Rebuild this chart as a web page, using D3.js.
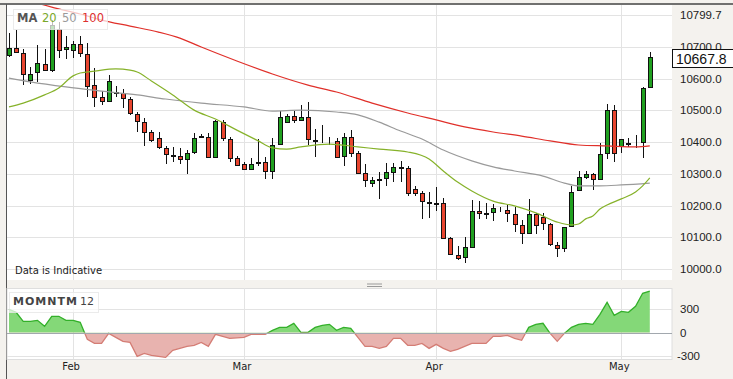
<!DOCTYPE html>
<html>
<head>
<meta charset="utf-8">
<script src="https://cdn.jsdelivr.net/npm/d3@7"></script>
<style>
    body { margin: 0; background: #f4f2ee; }
    svg { display: block; }
</style>
</head>
<body>
<svg id="chart" width="733" height="379"></svg>
<script>
// daily candles, one per session (Sun-Fri), late Jan to early May
let candle_open = [10675, 10697, 10681, 10596, 10621, 10646, 10627, 10757, 10694, 10691,
    10709, 10678, 10580, 10542, 10530, 10557, 10555, 10536, 10489, 10464,
    10432, 10413, 10382, 10361, 10356, 10347, 10369, 10418, 10416, 10353,
    10464, 10410, 10350, 10331, 10315, 10336, 10337, 10309, 10394, 10464,
    10482, 10470, 10479, 10405, 10404, 10403, 10404, 10356, 10416, 10366,
    10303, 10271, 10283, 10287, 10306, 10321, 10318, 10252, 10240, 10212,
    10209, 10208, 10098, 10044, 10038, 10069, 10183, 10178, 10180, 10187,
    10186, 10173, 10139, 10114, 10173, 10164, 10142, 10076, 10066, 10136,
    10249, 10290, 10300, 10284, 10366, 10501, 10388, 10396, 10398, 10400, 10574]
let candle_high = [10744, 10754, 10694, 10637, 10706, 10694, 10785, 10779, 10735, 10719,
    10735, 10713, 10634, 10561, 10612, 10577, 10568, 10542, 10495, 10476,
    10438, 10432, 10388, 10385, 10382, 10375, 10429, 10426, 10429, 10470,
    10470, 10416, 10356, 10337, 10350, 10410, 10353, 10413, 10498, 10489,
    10498, 10517, 10527, 10441, 10454, 10416, 10413, 10429, 10438, 10372,
    10331, 10290, 10306, 10334, 10334, 10341, 10325, 10262, 10246, 10243,
    10259, 10224, 10100, 10073, 10101, 10218, 10214, 10208, 10205, 10195,
    10202, 10195, 10155, 10221, 10177, 10177, 10145, 10085, 10132, 10262,
    10309, 10309, 10303, 10397, 10520, 10517, 10410, 10413, 10422, 10574, 10684]
let candle_low = [10668, 10681, 10580, 10583, 10590, 10624, 10621, 10665, 10662, 10665,
    10668, 10542, 10511, 10517, 10527, 10542, 10508, 10486, 10432, 10388,
    10400, 10378, 10331, 10337, 10331, 10300, 10363, 10413, 10350, 10350,
    10404, 10337, 10325, 10312, 10312, 10325, 10284, 10284, 10391, 10460,
    10460, 10467, 10391, 10353, 10397, 10391, 10350, 10325, 10353, 10303,
    10259, 10259, 10221, 10262, 10274, 10274, 10230, 10230, 10158, 10161,
    10183, 10095, 10044, 10028, 10019, 10066, 10158, 10158, 10151, 10180,
    10148, 10117, 10079, 10110, 10110, 10123, 10073, 10038, 10054, 10132,
    10246, 10284, 10249, 10281, 10347, 10337, 10366, 10385, 10382, 10350, 10574]
let candle_close = [10697, 10684, 10615, 10615, 10650, 10627, 10769, 10691, 10700, 10709,
    10681, 10577, 10542, 10530, 10593, 10559, 10539, 10492, 10467, 10432,
    10407, 10385, 10363, 10359, 10347, 10366, 10413, 10420, 10353, 10467,
    10413, 10350, 10328, 10315, 10331, 10338, 10309, 10391, 10479, 10482,
    10470, 10479, 10410, 10407, 10403, 10404, 10353, 10416, 10366, 10303,
    10281, 10281, 10285, 10306, 10322, 10323, 10240, 10240, 10214, 10210,
    10207, 10098, 10047, 10035, 10069, 10183, 10177, 10176, 10192, 10186,
    10177, 10142, 10114, 10173, 10139, 10145, 10079, 10066, 10132, 10243,
    10290, 10300, 10284, 10363, 10501, 10366, 10410, 10398, 10397, 10571, 10667.8]

// moving averages: [candle index, value]
let ma20 = [[0, 10511], [2, 10523], [5, 10549], [7, 10571], [9, 10609], [10, 10618], [12, 10624],
    [15, 10631], [17, 10627], [18, 10621], [20, 10593], [23, 10549], [26, 10501], [29, 10473],
    [32, 10438], [35, 10404], [37, 10382], [39, 10378], [41, 10385], [45, 10394], [49, 10385],
    [52, 10378], [56, 10369], [59, 10347], [61, 10309], [63, 10274], [65, 10246], [68, 10214],
    [71, 10199], [74, 10177], [77, 10148], [79, 10139], [80, 10142], [81, 10158], [82, 10167],
    [83, 10189], [84, 10202], [86, 10221], [88, 10243], [89, 10262], [90, 10287]]
let ma50 = [[0, 10602], [3, 10590], [8, 10574], [13, 10561], [18, 10549], [22, 10536], [27, 10523],
    [33, 10511], [37, 10498], [41, 10501], [46, 10495], [49, 10486], [52, 10463], [55, 10435],
    [58, 10410], [61, 10375], [65, 10341], [68, 10322], [71, 10309], [75, 10293], [78, 10271],
    [80, 10262], [83, 10262], [86, 10265], [90, 10271]]
let ma100 = [[0, 10867], [3, 10845], [6, 10826], [10, 10804], [13, 10785], [17, 10766], [21, 10747],
    [24, 10728], [27, 10700], [32, 10656], [37, 10615], [42, 10580], [46, 10558], [51, 10523],
    [56, 10492], [60, 10470], [64, 10448], [68, 10432], [72, 10419], [76, 10404], [80, 10391],
    [84, 10388], [88, 10385], [90, 10388]]

// momentum (12), one value per candle
let momentum = [300, 262, 145, 145, 158, 81, 210, 210, 158, 158,
    133, -86, -138, -138, -9, -60, -112, -125, -305, -266,
    -292, -305, -318, -228, -202, -176, -163, -125, -176, -22,
    -48, -73, -67, -60, -22, -22, -22, 30, 68, 68,
    120, 4, 4, 68, 94, 107, 30, 68, 55, -60,
    -176, -176, -202, -176, -73, -73, -163, -163, -138, -202,
    -150, -202, -241, -215, -176, -138, -138, -138, -48, -48,
    -35, -73, -99, 68, 107, 120, -9, -112, -9, 68,
    107, 120, 107, 236, 390, 223, 274, 261, 338, 506, 532]

let price_ticks = [10000, 10100, 10200, 10300, 10400, 10500, 10600, 10700, 10799.7]
let price_labels = ['10000.0', '10100.0', '10200.0', '10300.0', '10400.0', '10500.0', '10600.0', '10700.0', '10799.7']
let mom_ticks = [-300, 0, 300]
let month_names = ['Feb', 'Mar', 'Apr', 'May']
let month_start = [9, 33, 60, 86]
let last_price = 10667.8

let col_up = '#20a020'
let col_down = '#e8452f'
let grid_col = '#e3e3e3'

let pad = { l: 7, r: 672, main_t: 5, main_b: 280, mom_t: 288, mom_b: 359 }

let svg = d3.select('#chart')

let x = d3.scaleLinear()
    .domain([0, candle_open.length - 1])
    .range([9, 649.8])
let y = d3.scaleLinear()
    .domain([10000, 10800])
    .range([269, 15.3])
let m = d3.scaleLinear()
    .domain([-300, 300])
    .range([356, 309.3])

let px = v => Math.round(v) + 0.5

// frame
svg.append('line')
    .attr('x1', 0).attr('x2', 733).attr('y1', 4).attr('y2', 4)
    .attr('stroke', '#444').attr('stroke-width', 1.5)
svg.append('line')
    .attr('x1', 6.5).attr('x2', 6.5).attr('y1', 4).attr('y2', 379)
    .attr('stroke', '#555')

// panels
svg.append('rect')
    .attr('x', pad.l).attr('y', pad.main_t)
    .attr('width', pad.r - pad.l).attr('height', pad.main_b - pad.main_t)
    .attr('fill', '#fff')
svg.append('rect')
    .attr('x', pad.l).attr('y', pad.mom_t + 0.5)
    .attr('width', pad.r - pad.l).attr('height', pad.mom_b - pad.mom_t)
    .attr('fill', '#fff').attr('stroke', '#dedede')

let defs = svg.append('defs')
defs.append('clipPath').attr('id', 'clip-main')
    .append('rect')
    .attr('x', pad.l).attr('y', pad.main_t)
    .attr('width', pad.r - pad.l).attr('height', pad.main_b - pad.main_t)
defs.append('clipPath').attr('id', 'clip-up')
    .append('rect')
    .attr('x', pad.l).attr('y', pad.mom_t + 1)
    .attr('width', pad.r - pad.l).attr('height', m(0) - pad.mom_t - 1)
defs.append('clipPath').attr('id', 'clip-down')
    .append('rect')
    .attr('x', pad.l).attr('y', m(0))
    .attr('width', pad.r - pad.l).attr('height', pad.mom_b - m(0))

// grid
let grid = svg.append('g')
grid.selectAll('line.hg').data(price_ticks).enter()
    .append('line')
    .attr('x1', pad.l).attr('x2', pad.r)
    .attr('y1', d => px(y(d))).attr('y2', d => px(y(d)))
    .attr('stroke', grid_col)
grid.selectAll('line.mg').data(mom_ticks.filter(d => d !== 0)).enter()
    .append('line')
    .attr('x1', pad.l).attr('x2', pad.r)
    .attr('y1', d => px(m(d))).attr('y2', d => px(m(d)))
    .attr('stroke', grid_col)
month_start.forEach(i => {
    grid.append('line')
        .attr('x1', px(x(i))).attr('x2', px(x(i)))
        .attr('y1', pad.main_t).attr('y2', pad.main_b)
        .attr('stroke', grid_col)
    grid.append('line')
        .attr('x1', px(x(i))).attr('x2', px(x(i)))
        .attr('y1', pad.mom_t).attr('y2', pad.mom_b)
        .attr('stroke', grid_col)
})

// candles
let candles = candle_open.map((o, i) => ({
    i: i, o: o, h: candle_high[i], l: candle_low[i], c: candle_close[i]
}))
let main = svg.append('g').attr('clip-path', 'url(#clip-main)')

main.selectAll('line.wick').data(candles).enter()
    .append('line')
    .attr('x1', d => px(x(d.i))).attr('x2', d => px(x(d.i)))
    .attr('y1', d => Math.round(y(d.h))).attr('y2', d => Math.round(y(d.l)))
    .attr('stroke', '#111')
main.selectAll('rect.body').data(candles).enter()
    .append('rect')
    .attr('x', d => Math.round(x(d.i)) - 1.5)
    .attr('width', 4)
    .attr('y', d => px(y(Math.max(d.o, d.c))))
    .attr('height', d => Math.max(0, Math.round(Math.abs(y(d.o) - y(d.c)))))
    .attr('fill', d => d.c >= d.o ? col_up : col_down)
    .attr('stroke', '#111')

// moving averages
let ma_line = d3.line()
    .x(d => x(d[0]))
    .y(d => y(d[1]))
    .curve(d3.curveMonotoneX)
let ma_series = [[ma50, '#9a9a9a'], [ma100, '#e0302a'], [ma20, '#86b22a']]
ma_series.forEach(s => {
    main.append('path')
        .datum(s[0])
        .attr('d', ma_line)
        .attr('fill', 'none')
        .attr('stroke', s[1])
        .attr('stroke-width', 1.2)
})

// momentum panel
let mom_area = d3.area()
    .x((d, i) => x(i))
    .y0(m(0))
    .y1(d => m(d))
let mom_path = d3.line()
    .x((d, i) => x(i))
    .y(d => m(d))

let up = svg.append('g').attr('clip-path', 'url(#clip-up)')
up.append('path').datum(momentum).attr('d', mom_area).attr('fill', '#84d878')
up.append('path').datum(momentum).attr('d', mom_path)
    .attr('fill', 'none').attr('stroke', '#33b02a').attr('stroke-width', 1.3)
let down = svg.append('g').attr('clip-path', 'url(#clip-down)')
down.append('path').datum(momentum).attr('d', mom_area).attr('fill', '#e8b3af')
down.append('path').datum(momentum).attr('d', mom_path)
    .attr('fill', 'none').attr('stroke', '#d47d75').attr('stroke-width', 1.3)

svg.append('line')
    .attr('x1', pad.l).attr('x2', pad.r)
    .attr('y1', px(m(0))).attr('y2', px(m(0)))
    .attr('stroke', '#a2a8ae')

// right axes
let axis_font = '"Liberation Sans", Arial, sans-serif'
svg.selectAll('text.pl').data(price_ticks).enter()
    .append('text')
    .attr('x', 680)
    .attr('y', d => y(d) + 4)
    .attr('font-family', axis_font).attr('font-size', 11.5)
    .attr('fill', '#222')
    .text((d, i) => price_labels[i])
svg.selectAll('text.ml').data(mom_ticks).enter()
    .append('text')
    .attr('x', d => d < 0 ? 677 : 680)
    .attr('y', d => m(d) + 4)
    .attr('font-family', axis_font).attr('font-size', 11.5)
    .attr('fill', '#222')
    .text(d => d)

// last price box
svg.append('rect')
    .attr('x', 672.5).attr('y', 49.5)
    .attr('width', 64).attr('height', 18)
    .attr('fill', '#fff').attr('stroke', '#111')
svg.append('text')
    .attr('x', 676).attr('y', 63.5)
    .attr('font-family', axis_font).attr('font-size', 14)
    .attr('fill', '#111')
    .text(last_price.toFixed(1))

// month labels
let label_font = '"DejaVu Sans", Verdana, sans-serif'
svg.selectAll('text.month').data(month_names).enter()
    .append('text')
    .attr('x', (d, i) => x(month_start[i]) - 2)
    .attr('y', 370)
    .attr('text-anchor', 'middle')
    .attr('font-family', label_font).attr('font-size', 10)
    .attr('fill', '#222')
    .text(d => d)

// legends
svg.append('rect')
    .attr('x', 13.5).attr('y', 9.5).attr('width', 94).attr('height', 20)
    .attr('fill', 'rgba(255,255,255,0.72)').attr('stroke', 'rgba(230,230,230,0.8)')
let ma_legend = [['MA', '#555', 17], ['20', '#7aa82a', 42], ['50', '#9a9a9a', 62], ['100', '#dd3030', 82]]
ma_legend.forEach(t => {
    svg.append('text')
        .attr('x', t[2]).attr('y', 22)
        .attr('font-family', label_font).attr('font-size', 11.5)
        .attr('font-weight', t[0] === 'MA' ? 'bold' : 'normal')
        .attr('fill', t[1])
        .text(t[0])
})

svg.append('rect')
    .attr('x', 9.5).attr('y', 292.5).attr('width', 89).attr('height', 20)
    .attr('fill', 'rgba(255,255,255,0.72)').attr('stroke', 'rgba(230,230,230,0.8)')
svg.append('text')
    .attr('x', 13).attr('y', 305)
    .attr('font-family', label_font).attr('font-size', 11)
    .attr('font-weight', 'bold').attr('letter-spacing', 1)
    .attr('fill', '#444')
    .text('MOMNTM')
svg.append('text')
    .attr('x', 80).attr('y', 305)
    .attr('font-family', label_font).attr('font-size', 11)
    .attr('fill', '#444')
    .text('12')

svg.append('text')
    .attr('x', 15).attr('y', 274)
    .attr('font-family', label_font).attr('font-size', 10)
    .attr('fill', '#222')
    .text('Data is Indicative')

// pane splitter handle
;[284, 286.5].forEach(yy => {
    svg.append('line')
        .attr('x1', 367).attr('x2', 382).attr('y1', yy).attr('y2', yy)
        .attr('stroke', '#9a9a9a')
})
</script>
</body>
</html>
